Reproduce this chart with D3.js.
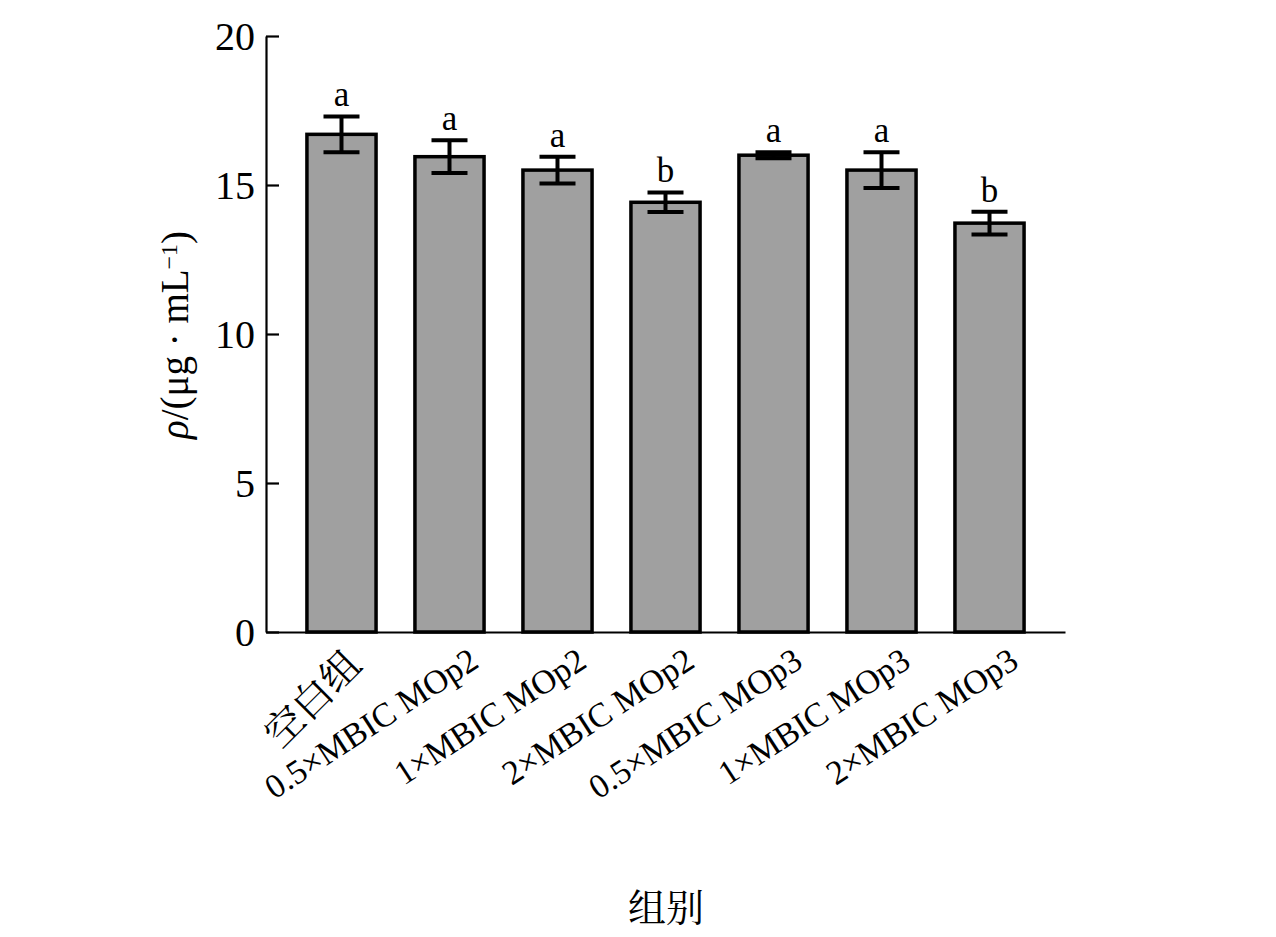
<!DOCTYPE html>
<html>
<head>
<meta charset="utf-8">
<script src="https://cdn.jsdelivr.net/npm/d3@7"></script>
<style>
  body { margin: 0; background: #fff; }
  svg text { font-family: "Liberation Serif", "Times New Roman", "Noto Serif CJK SC", "Noto Sans CJK SC", serif; fill: #000; }
</style>
</head>
<body>
<svg id="chart" width="1276" height="937"></svg>
<script>
// group names, means, error (sd) and significance letters
var categories = ["空白组", "0.5×MBIC MOp2", "1×MBIC MOp2", "2×MBIC MOp2", "0.5×MBIC MOp3", "1×MBIC MOp3", "2×MBIC MOp3"];
var means = [16.7, 15.95, 15.5, 14.42, 16.0, 15.5, 13.72];
var errs = [0.6, 0.55, 0.45, 0.33, 0.1, 0.6, 0.38];
var letters = ["a", "a", "a", "b", "a", "a", "b"];
var yTicks = [0, 5, 10, 15, 20];

var svg = d3.select("#chart");

var x = d3.scaleBand()
    .domain(categories)
    .range([266, 1065])
    .paddingInner(0.36)
    .paddingOuter(0.379);

var y = d3.scaleLinear()
    .domain([0, 20])
    .range([632, 36]);

// bars
svg.append("g").selectAll("rect")
    .data(categories)
    .join("rect")
    .attr("x", d => x(d))
    .attr("y", (d, i) => y(means[i]))
    .attr("width", x.bandwidth())
    .attr("height", (d, i) => y(0) - y(means[i]))
    .attr("fill", "#a0a0a0")
    .attr("stroke", "#000")
    .attr("stroke-width", 3.5);

// error bars
var capW = 36;
var eb = svg.append("g").attr("stroke", "#000").attr("stroke-width", 4);
categories.forEach((c, i) => {
    var cx = x(c) + x.bandwidth() / 2;
    var hi = y(means[i] + errs[i]), lo = y(means[i] - errs[i]);
    eb.append("line").attr("x1", cx).attr("x2", cx).attr("y1", hi).attr("y2", lo);
    eb.append("line").attr("x1", cx - capW / 2).attr("x2", cx + capW / 2).attr("y1", hi).attr("y2", hi);
    eb.append("line").attr("x1", cx - capW / 2).attr("x2", cx + capW / 2).attr("y1", lo).attr("y2", lo);
});

// significance letters
svg.append("g").selectAll("text")
    .data(categories)
    .join("text")
    .attr("x", d => x(d) + x.bandwidth() / 2)
    .attr("y", (d, i) => y(means[i] + errs[i]) - 10)
    .attr("text-anchor", "middle")
    .style("font-size", "35px")
    .text((d, i) => letters[i]);

// y axis
var yAxis = svg.append("g")
    .attr("transform", "translate(266,0)")
    .call(d3.axisLeft(y).tickValues(yTicks).tickSizeInner(-13).tickSizeOuter(0).tickPadding(11));
yAxis.selectAll("path, line").attr("stroke", "#000").attr("stroke-width", 2.2);
yAxis.selectAll("text").style("font-size", "40px").attr("dy", "0.34em");

// x axis
var xAxis = svg.append("g")
    .attr("transform", "translate(0,632)")
    .call(d3.axisBottom(x).tickSize(0).tickFormat(""));
xAxis.select(".domain").attr("stroke", "#000").attr("stroke-width", 2.2);

// rotated category labels (chinese one sits at 45deg, latin ones flatter)
svg.append("g").selectAll("text")
    .data(categories)
    .join("text")
    .attr("transform", (d, i) => {
        var cx = x(d) + x.bandwidth() / 2;
        return i === 0
            ? "translate(" + (cx + 22) + ",667) rotate(-45)"
            : "translate(" + (cx + 31) + ",666) rotate(-33)";
    })
    .attr("text-anchor", "end")
    .style("font-size", (d, i) => i === 0 ? "39px" : "34px")
    .text(d => d);

// axis titles
var yLab = svg.append("text")
    .attr("transform", "translate(188,335) rotate(-90)")
    .attr("text-anchor", "middle")
    .style("font-size", "39px");
yLab.append("tspan").style("font-style", "italic").text("ρ");
yLab.append("tspan").text("/(μg · mL");
yLab.append("tspan").attr("dy", "-0.45em").style("font-size", "24px").text("−1");
yLab.append("tspan").attr("dy", "0.3em").text(")");

svg.append("text")
    .attr("x", 666)
    .attr("y", 921)
    .attr("text-anchor", "middle")
    .style("font-size", "38px")
    .text("组别");
</script>
</body>
</html>
